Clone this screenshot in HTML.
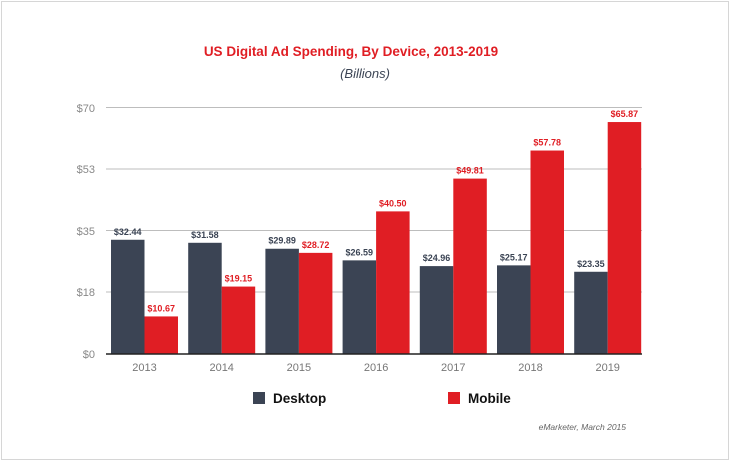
<!DOCTYPE html>
<html><head><meta charset="utf-8"><style>
body{margin:0;background:#fff;}
svg{display:block;font-family:"Liberation Sans",sans-serif;}
</style></head><body>
<svg width="751" height="462" viewBox="0 0 751 462">
<rect x="0" y="0" width="751" height="462" fill="#fff"/>
<rect x="1.5" y="1.5" width="727" height="458" fill="none" stroke="#d6d6d6" stroke-width="1"/>
<text x="351" y="56" text-anchor="middle" font-size="13.5" font-weight="bold" fill="#e01e24">US Digital Ad Spending, By Device, 2013-2019</text>
<text x="365" y="78" text-anchor="middle" font-size="13" font-style="italic" fill="#3b4454">(Billions)</text>
<g stroke="#bdbdbd" stroke-width="1">
<line x1="106" y1="107.5" x2="642" y2="107.5"/>
<line x1="106" y1="169" x2="642" y2="169"/>
<line x1="106" y1="230.5" x2="642" y2="230.5"/>
<line x1="106" y1="292" x2="642" y2="292"/>
</g>
<g font-size="11" fill="#888" text-anchor="end">
<text x="95" y="112">$70</text>
<text x="95" y="173">$53</text>
<text x="95" y="235">$35</text>
<text x="95" y="296">$18</text>
<text x="95" y="358">$0</text>
</g>
<g id="bars"></g>
<line x1="106" y1="354" x2="642" y2="354" stroke="#222" stroke-width="1.5"/>
<g font-size="11" fill="#777" text-anchor="middle" id="xl"></g>
<rect x="253" y="392" width="12" height="12" fill="#3b4454"/>
<text x="273" y="403" font-size="13.5" font-weight="bold" fill="#111">Desktop</text>
<rect x="448" y="392" width="12" height="12" fill="#e01e24"/>
<text x="468" y="403" font-size="13.5" font-weight="bold" fill="#111">Mobile</text>
<text x="626" y="430" text-anchor="end" font-size="8.5" font-style="italic" fill="#666">eMarketer, March 2015</text>
<script>
var d=[32.44,31.58,29.89,26.59,24.96,25.17,23.35],m=[10.67,19.15,28.72,40.50,49.81,57.78,65.87];
var g=document.getElementById('bars'),xl=document.getElementById('xl'),ns='http://www.w3.org/2000/svg',s=246.5/70;
function r(x,v,c){var e=document.createElementNS(ns,'rect');var h=v*s;e.setAttribute('x',x);e.setAttribute('y',354-h);e.setAttribute('width',33.5);e.setAttribute('height',h);e.setAttribute('fill',c);g.appendChild(e);
var t=document.createElementNS(ns,'text');t.setAttribute('x',x+16.7);t.setAttribute('y',354-h-5);t.setAttribute('text-anchor','middle');t.setAttribute('font-size','9');t.setAttribute('font-weight','bold');t.setAttribute('fill',c=='#3b4454'?'#3b4454':'#e01e24');t.textContent='$'+v.toFixed(2);g.appendChild(t);}
for(var i=0;i<7;i++){var x=111+i*77.2;r(x,d[i],'#3b4454');r(x+33.5,m[i],'#e01e24');
var t=document.createElementNS(ns,'text');t.setAttribute('x',x+33.5);t.setAttribute('y',371);t.textContent=2013+i;xl.appendChild(t);}
</script>
</svg>
</body></html>
